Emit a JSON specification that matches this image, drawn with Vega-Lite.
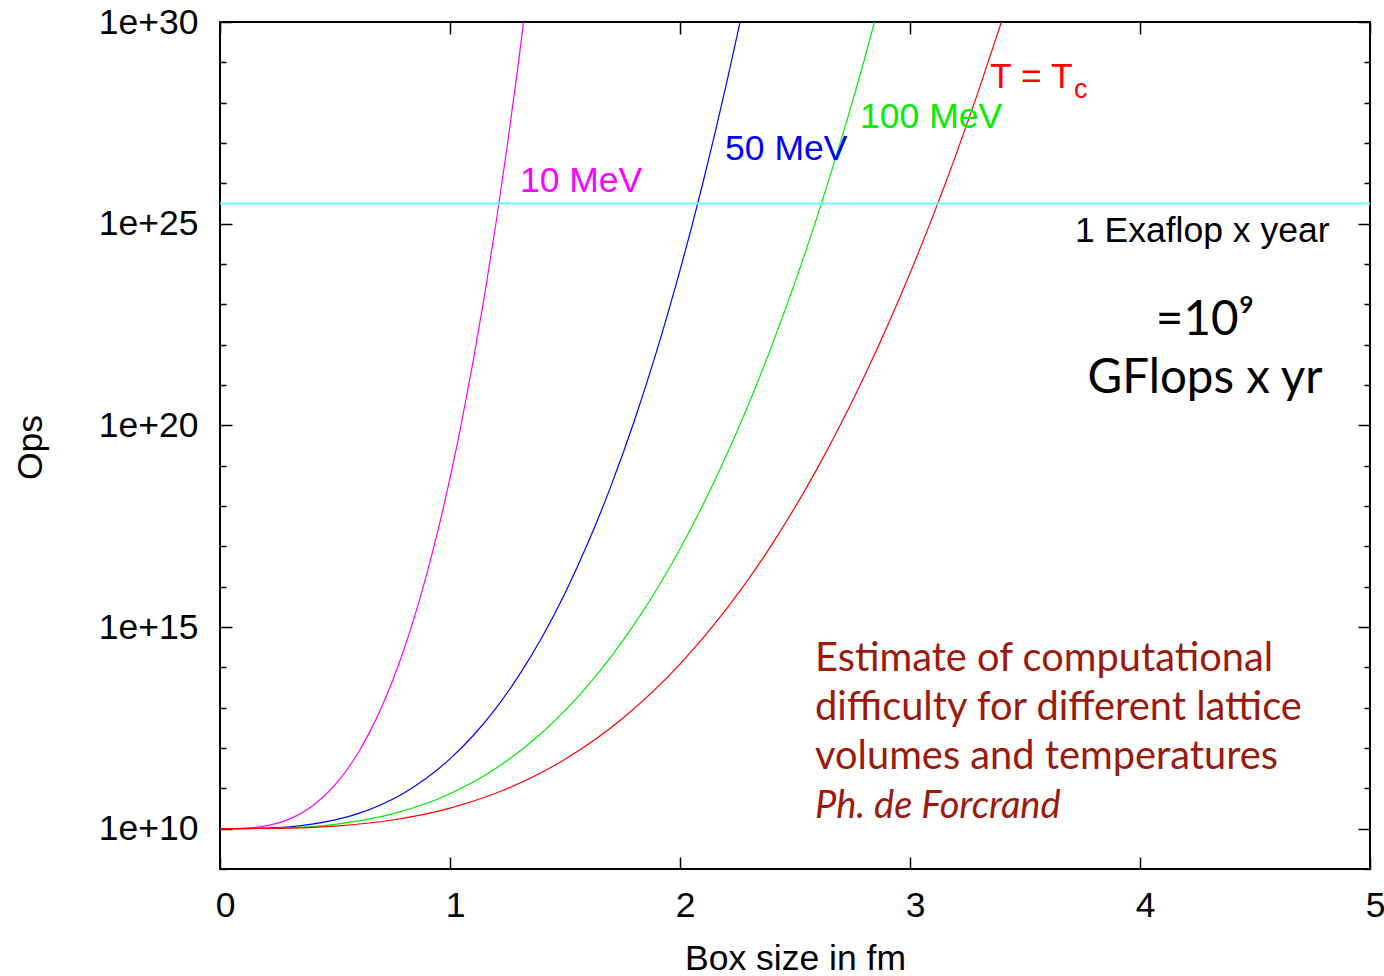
{
  "$schema": "https://vega.github.io/schema/vega-lite/v6.json",
  "width": 1150,
  "height": 847,
  "autosize": {"type": "none"},
  "padding": {"left": 220, "top": 22, "right": 14, "bottom": 107},
  "background": "white",
  "config": {"view": {"stroke": "#000", "strokeWidth": 2}, "font": "Liberation Sans"},
  "datasets": {
    "curves": [
      {"series": "10 MeV", "box": 0, "ops": 1e10},
      {"series": "10 MeV", "box": 0.1, "ops": 1.02e10},
      {"series": "10 MeV", "box": 0.2, "ops": 1.17e10},
      {"series": "10 MeV", "box": 0.3, "ops": 1.72e10},
      {"series": "10 MeV", "box": 0.4, "ops": 3.60e10},
      {"series": "10 MeV", "box": 0.5, "ops": 1.22e11},
      {"series": "10 MeV", "box": 0.6, "ops": 7.53e11},
      {"series": "10 MeV", "box": 0.65, "ops": 2.44e12},
      {"series": "10 MeV", "box": 0.7, "ops": 9.57e12},
      {"series": "10 MeV", "box": 0.75, "ops": 4.63e13},
      {"series": "10 MeV", "box": 0.8, "ops": 2.81e14},
      {"series": "10 MeV", "box": 0.85, "ops": 2.17e15},
      {"series": "10 MeV", "box": 0.9, "ops": 2.16e16},
      {"series": "10 MeV", "box": 0.95, "ops": 2.83e17},
      {"series": "10 MeV", "box": 1.0, "ops": 4.90e18},
      {"series": "10 MeV", "box": 1.05, "ops": 1.15e20},
      {"series": "10 MeV", "box": 1.1, "ops": 3.68e21},
      {"series": "10 MeV", "box": 1.15, "ops": 1.64e23},
      {"series": "10 MeV", "box": 1.2, "ops": 1.04e25},
      {"series": "10 MeV", "box": 1.25, "ops": 9.40e26},
      {"series": "10 MeV", "box": 1.3, "ops": 1.24e29},
      {"series": "10 MeV", "box": 1.35, "ops": 2.40e31},
      {"series": "50 MeV", "box": 0, "ops": 1e10},
      {"series": "50 MeV", "box": 0.2, "ops": 1.03e10},
      {"series": "50 MeV", "box": 0.4, "ops": 1.29e10},
      {"series": "50 MeV", "box": 0.6, "ops": 2.36e10},
      {"series": "50 MeV", "box": 0.8, "ops": 7.69e10},
      {"series": "50 MeV", "box": 1.0, "ops": 5.37e11},
      {"series": "50 MeV", "box": 1.1, "ops": 2.01e12},
      {"series": "50 MeV", "box": 1.2, "ops": 9.75e12},
      {"series": "50 MeV", "box": 1.3, "ops": 6.32e13},
      {"series": "50 MeV", "box": 1.4, "ops": 5.58e14},
      {"series": "50 MeV", "box": 1.5, "ops": 6.90e15},
      {"series": "50 MeV", "box": 1.6, "ops": 1.22e17},
      {"series": "50 MeV", "box": 1.7, "ops": 3.16e18},
      {"series": "50 MeV", "box": 1.8, "ops": 1.23e20},
      {"series": "50 MeV", "box": 1.9, "ops": 7.35e21},
      {"series": "50 MeV", "box": 2.0, "ops": 6.92e23},
      {"series": "50 MeV", "box": 2.05, "ops": 8.02e24},
      {"series": "50 MeV", "box": 2.1, "ops": 1.05e26},
      {"series": "50 MeV", "box": 2.15, "ops": 1.56e27},
      {"series": "50 MeV", "box": 2.2, "ops": 2.64e28},
      {"series": "50 MeV", "box": 2.25, "ops": 5.08e29},
      {"series": "50 MeV", "box": 2.3, "ops": 1.12e31},
      {"series": "100 MeV", "box": 0, "ops": 1e10},
      {"series": "100 MeV", "box": 0.25, "ops": 1.03e10},
      {"series": "100 MeV", "box": 0.5, "ops": 1.28e10},
      {"series": "100 MeV", "box": 0.75, "ops": 2.32e10},
      {"series": "100 MeV", "box": 1.0, "ops": 7.36e10},
      {"series": "100 MeV", "box": 1.2, "ops": 3.15e11},
      {"series": "100 MeV", "box": 1.4, "ops": 2.39e12},
      {"series": "100 MeV", "box": 1.6, "ops": 3.56e13},
      {"series": "100 MeV", "box": 1.8, "ops": 1.14e15},
      {"series": "100 MeV", "box": 2.0, "ops": 8.63e16},
      {"series": "100 MeV", "box": 2.2, "ops": 1.71e19},
      {"series": "100 MeV", "box": 2.3, "ops": 3.54e20},
      {"series": "100 MeV", "box": 2.4, "ops": 9.66e21},
      {"series": "100 MeV", "box": 2.5, "ops": 3.52e23},
      {"series": "100 MeV", "box": 2.6, "ops": 1.73e25},
      {"series": "100 MeV", "box": 2.7, "ops": 1.16e27},
      {"series": "100 MeV", "box": 2.8, "ops": 1.08e29},
      {"series": "100 MeV", "box": 2.9, "ops": 1.40e31},
      {"series": "T = Tc", "box": 0, "ops": 1e10},
      {"series": "T = Tc", "box": 0.25, "ops": 1.02e10},
      {"series": "T = Tc", "box": 0.5, "ops": 1.16e10},
      {"series": "T = Tc", "box": 0.75, "ops": 1.64e10},
      {"series": "T = Tc", "box": 1.0, "ops": 3.24e10},
      {"series": "T = Tc", "box": 1.25, "ops": 9.91e10},
      {"series": "T = Tc", "box": 1.5, "ops": 5.26e11},
      {"series": "T = Tc", "box": 1.75, "ops": 5.41e12},
      {"series": "T = Tc", "box": 2.0, "ops": 1.20e14},
      {"series": "T = Tc", "box": 2.2, "ops": 2.69e15},
      {"series": "T = Tc", "box": 2.4, "ops": 1.12e17},
      {"series": "T = Tc", "box": 2.6, "ops": 9.20e18},
      {"series": "T = Tc", "box": 2.8, "ops": 1.57e21},
      {"series": "T = Tc", "box": 3.0, "ops": 5.89e23},
      {"series": "T = Tc", "box": 3.1, "ops": 1.56e25},
      {"series": "T = Tc", "box": 3.2, "ops": 5.15e26},
      {"series": "T = Tc", "box": 3.3, "ops": 2.13e28},
      {"series": "T = Tc", "box": 3.4, "ops": 1.11e30},
      {"series": "T = Tc", "box": 3.45, "ops": 8.75e30}
    ],
    "labels": [
      {"series": "10 MeV", "text": "10 MeV", "box": 1.304, "ops": 6.10e25},
      {"series": "50 MeV", "text": "50 MeV", "box": 2.196, "ops": 3.79e26},
      {"series": "100 MeV", "text": "100 MeV", "box": 2.783, "ops": 2.36e27},
      {"series": "T = Tc", "text": "T = T", "box": 3.348, "ops": 2.31e28},
      {"series": "note", "text": "1 Exaflop x year", "box": 3.717, "ops": 3.51e24}
    ],
    "subscript": [
      {"series": "T = Tc", "text": "c", "box": 3.713, "ops": 1.31e28}
    ],
    "exaflop": [
      {"ops": 3.15e25}
    ],
    "big": [
      {"text": "=10⁹", "box": 4.283, "ops": 1.74e22},
      {"text": "GFlops x yr", "box": 4.283, "ops": 6.34e20}
    ],
    "note": [
      {"text": "Estimate of computational", "box": 2.587, "ops": 8.11e13},
      {"text": "difficulty for different lattice", "box": 2.587, "ops": 4.94e12},
      {"text": "volumes and temperatures", "box": 2.587, "ops": 3.02e11}
    ],
    "author": [
      {"text": "Ph. de Forcrand", "box": 2.587, "ops": 1.84e10}
    ]
  },
  "layer": [
    {
      "data": {"name": "curves"},
      "mark": {"type": "line", "clip": true, "strokeWidth": 1.2, "interpolate": "monotone"},
      "encoding": {
        "x": {
          "field": "box", "type": "quantitative",
          "scale": {"domain": [0, 5], "nice": false},
          "axis": {
            "orient": "bottom", "values": [0, 1, 2, 3, 4, 5], "format": "d",
            "domain": false, "grid": false, "labelFlush": false, "labelOverlap": false,
            "tickSize": -12, "tickWidth": 1.5, "tickColor": "#000",
            "labelFont": "Liberation Sans", "labelFontSize": 35.5, "labelColor": "#000",
            "labelPadding": 31, "labelOffset": 5,
            "title": "Box size in fm", "titleFont": "Liberation Sans", "titleFontSize": 35.5,
            "titleFontWeight": "normal", "titleColor": "#000",
            "titleY": 89, "titleBaseline": "middle"
          }
        },
        "y": {
          "field": "ops", "type": "quantitative",
          "scale": {"type": "log", "domain": [1e9, 1e30], "nice": false},
          "axis": {
            "orient": "left",
            "values": [1e9, 1e10, 1e11, 1e12, 1e13, 1e14, 1e15, 1e16, 1e17, 1e18, 1e19, 1e20, 1e21, 1e22, 1e23, 1e24, 1e25, 1e26, 1e27, 1e28, 1e29, 1e30],
            "labelExpr": "round(log(datum.value)/LN10) % 5 == 0 ? '1e+' + round(log(datum.value)/LN10) : ''",
            "domain": false, "grid": false, "labelFlush": false, "labelOverlap": false,
            "tickSize": {"condition": {"test": "round(log(datum.value)/LN10) % 5 == 0", "value": -12}, "value": -6},
            "tickWidth": 1.5, "tickColor": "#000",
            "labelFont": "Liberation Sans", "labelFontSize": 35.5, "labelColor": "#000",
            "labelPadding": 34, "labelBaseline": "middle",
            "title": "Ops", "titleFont": "Liberation Sans", "titleFontSize": 35.5,
            "titleFontWeight": "normal", "titleColor": "#000",
            "titleX": -190, "titleY": 425, "titleAngle": -90,
            "titleBaseline": "middle", "titleAlign": "center"
          }
        },
        "color": {
          "field": "series", "type": "nominal",
          "scale": {"domain": ["10 MeV", "50 MeV", "100 MeV", "T = Tc", "note"], "range": ["#ff00ff", "#0000ff", "#00ee00", "#ff0000", "#000000"]},
          "legend": null
        }
      }
    },
    {
      "data": {"name": "exaflop"},
      "mark": {"type": "rule", "color": "#66ffff", "strokeWidth": 2},
      "encoding": {
        "y": {
          "field": "ops", "type": "quantitative",
          "axis": {
            "orient": "right",
            "values": [1e9, 1e10, 1e11, 1e12, 1e13, 1e14, 1e15, 1e16, 1e17, 1e18, 1e19, 1e20, 1e21, 1e22, 1e23, 1e24, 1e25, 1e26, 1e27, 1e28, 1e29, 1e30],
            "labels": false, "domain": false, "grid": false, "title": null,
            "tickSize": {"condition": {"test": "round(log(datum.value)/LN10) % 5 == 0", "value": -12}, "value": -6},
            "tickWidth": 1.5, "tickColor": "#000"
          }
        }
      }
    },
    {
      "data": {"name": "labels"},
      "mark": {"type": "text", "align": "left", "baseline": "alphabetic", "font": "Liberation Sans", "fontSize": 35.5},
      "encoding": {
        "x": {
          "field": "box", "type": "quantitative",
          "axis": {
            "orient": "top", "values": [0, 1, 2, 3, 4, 5], "labels": false,
            "domain": false, "grid": false, "title": null,
            "tickSize": -12, "tickWidth": 1.5, "tickColor": "#000"
          }
        },
        "y": {"field": "ops", "type": "quantitative", "axis": null},
        "text": {"field": "text"},
        "color": {"field": "series", "type": "nominal", "legend": null}
      }
    },
    {
      "data": {"name": "subscript"},
      "mark": {"type": "text", "align": "left", "baseline": "alphabetic", "font": "Liberation Sans", "fontSize": 27},
      "encoding": {
        "x": {"field": "box", "type": "quantitative", "axis": null},
        "y": {"field": "ops", "type": "quantitative", "axis": null},
        "text": {"field": "text"},
        "color": {"field": "series", "type": "nominal", "legend": null}
      }
    },
    {
      "data": {"name": "big"},
      "mark": {"type": "text", "align": "center", "baseline": "alphabetic", "font": "Lato", "fontSize": 47.5, "color": "#000"},
      "encoding": {
        "x": {"field": "box", "type": "quantitative", "axis": null},
        "y": {"field": "ops", "type": "quantitative", "axis": null},
        "text": {"field": "text"}
      }
    },
    {
      "data": {"name": "note"},
      "mark": {"type": "text", "align": "left", "baseline": "alphabetic", "font": "Lato", "fontSize": 39.8, "color": "#9c1a0c"},
      "encoding": {
        "x": {"field": "box", "type": "quantitative", "axis": null},
        "y": {"field": "ops", "type": "quantitative", "axis": null},
        "text": {"field": "text"}
      }
    },
    {
      "data": {"name": "author"},
      "mark": {"type": "text", "align": "left", "baseline": "alphabetic", "font": "Lato", "fontSize": 38, "fontStyle": "italic", "color": "#9c1a0c"},
      "encoding": {
        "x": {"field": "box", "type": "quantitative", "axis": null},
        "y": {"field": "ops", "type": "quantitative", "axis": null},
        "text": {"field": "text"}
      }
    }
  ],
  "resolve": {"axis": {"x": "independent", "y": "independent"}}
}
